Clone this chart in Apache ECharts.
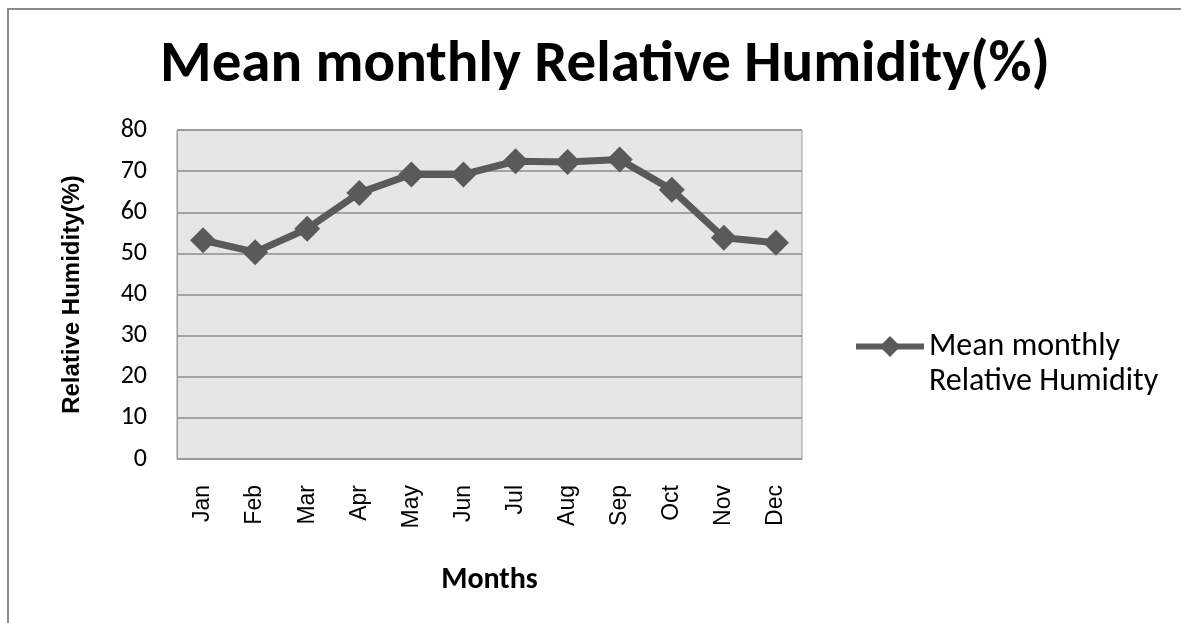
<!DOCTYPE html>
<html>
<head>
<meta charset="utf-8">
<script src="https://cdn.jsdelivr.net/npm/echarts@6/dist/echarts.min.js"></script>
<style>html,body{margin:0;padding:0;background:#fff}#c{width:1181px;height:623px}</style>
</head>
<body>
<div id="c"></div>
<script>
const months = ['Jan','Feb','Mar','Apr','May','Jun','Jul','Aug','Sep','Oct','Nov','Dec'];
const humidity = [53.2, 50.3, 56.0, 64.7, 69.2, 69.2, 72.4, 72.2, 72.8, 65.5, 53.8, 52.6];
const seriesName = 'Mean monthly Relative Humidity';
const yTicks = [0, 10, 20, 30, 40, 50, 60, 70, 80];

const chart = echarts.init(document.getElementById('c'), null, {renderer: 'canvas'});
chart.setOption({
  backgroundColor: '#ffffff',
  animation: false,
  title: {
    text: 'Mean monthly Relative Humidity(%)',
    left: 600, top: 32, textAlign: 'center',
    textStyle: {fontFamily: 'Carlito, Lato, "Open Sans", sans-serif', fontWeight: 'bold', fontSize: 59, color: '#000'}
  },
  graphic: [{
    type: 'rect', shape: {x: 8, y: 9, width: 1200, height: 700},
    style: {fill: 'none', stroke: '#8a8a8a', lineWidth: 2}, silent: true, z: -1
  }],
  legend: {
    left: 853, top: 294, padding: 0,
    itemWidth: 68, itemHeight: 26, itemGap: 0,
    formatter: () => ' \nMean monthly\nRelative Humidity',
    lineStyle: {width: 6},
    textStyle: {fontFamily: 'Carlito, Lato, sans-serif', fontSize: 32, color: '#000', lineHeight: 35},
    data: [{name: seriesName}]
  },
  grid: {left: 177, top: 130, right: 379, bottom: 164, show: true, backgroundColor: '#e6e6e6', borderColor: '#9a9a9a', borderWidth: 1},
  xAxis: {
    type: 'category', data: months, boundaryGap: true,
    name: 'Months', nameLocation: 'middle', nameGap: 106,
    nameTextStyle: {fontFamily: 'Carlito, Lato, sans-serif', fontWeight: 'bold', fontSize: 30, color: '#000'},
    axisLine: {show: true, lineStyle: {color: '#9a9a9a', width: 1}},
    axisTick: {show: false},
    axisLabel: {rotate: 90, margin: 26, fontFamily: '"Liberation Sans", Arial, sans-serif', fontSize: 23, color: '#000'}
  },
  yAxis: {
    type: 'value', min: 0, max: 80, interval: 10,
    name: 'Relative Humidity(%)', nameLocation: 'middle', nameGap: 93, nameRotate: 90,
    nameTextStyle: {fontFamily: '"Liberation Sans", Arial, sans-serif', fontWeight: 'bold', fontSize: 24, color: '#000'},
    axisLine: {show: true, lineStyle: {color: '#9a9a9a', width: 1}},
    axisTick: {show: false},
    axisLabel: {margin: 30, fontFamily: 'Carlito, Lato, sans-serif', fontSize: 26, color: '#000',
      formatter: v => yTicks.includes(v) ? String(v) : ''},
    splitLine: {show: true, lineStyle: {color: '#8c8c8c', width: 1.5}}
  },
  series: [{
    name: seriesName, type: 'line', data: humidity,
    symbol: 'diamond', symbolSize: 26,
    lineStyle: {color: '#5a5a5a', width: 7},
    itemStyle: {color: '#5a5a5a'}
  }]
});
</script>
</body>
</html>
